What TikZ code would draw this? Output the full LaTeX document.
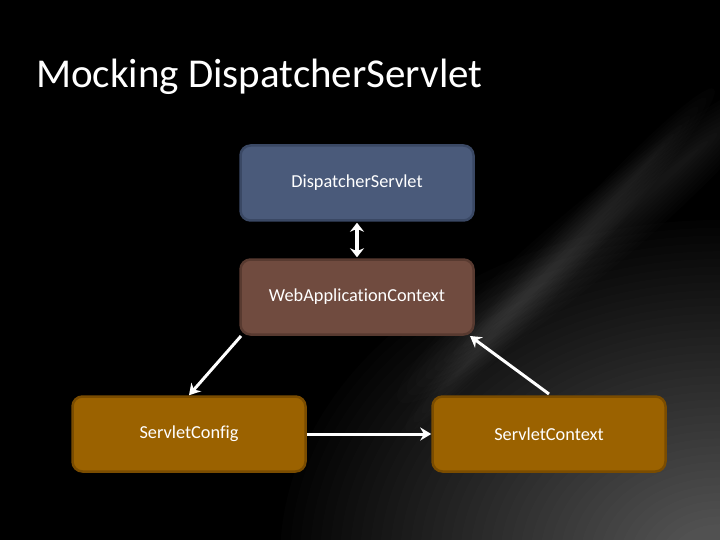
\documentclass[tikz,border=0pt]{standalone}
\usepackage{fontspec}
\setmainfont{Carlito}[Ligatures={NoCommon}]
\usetikzlibrary{arrows.meta}
\definecolor{dsblue}{RGB}{74,90,122}
\definecolor{dsblueb}{RGB}{58,72,100}
\definecolor{wacbrown}{RGB}{112,75,63}
\definecolor{wacbrownb}{RGB}{88,58,48}
\definecolor{scorange}{RGB}{155,98,0}
\definecolor{scorangeb}{RGB}{122,76,0}
\tikzset{
  x=1pt, y=-1pt,
  box/.style={draw, line width=2.5pt, rounded corners=10pt, minimum width=233pt, minimum height=75pt, text=white, font=\fontsize{18.3}{20}\selectfont, inner sep=0pt},
  conn/.style={white, line width=3pt, -{Stealth[length=11pt,width=13pt]}},
  dconn/.style={white, line width=4pt, {Stealth[length=9pt,width=14pt]}-{Stealth[length=9pt,width=14pt]}}
}
\begin{document}
\begin{tikzpicture}
\useasboundingbox (0,0) rectangle (720,540);
\fill[black] (0,0) rectangle (720,540);
% background glow
\begin{scope}
\clip (0,0) rectangle (720,540);
\foreach \k in {0,...,39} {
  \fill[white, opacity=0.0105] (720,560) ellipse ({440-10*\k} and {340-7.8*\k});
}
\foreach \k in {0,...,9} {
  \fill[white, opacity=0.012, rotate around={40:(590,240)}] (590,240) ellipse ({250-12*\k} and {36-3.4*\k});
}
\foreach \k in {0,...,7} {
  \fill[white, opacity=0.012, rotate around={48:(560,260)}] (560,260) ellipse ({230-12*\k} and {22-2.6*\k});
}
\end{scope}
\node[anchor=base west, text=white, font=\fontsize{41}{44}\selectfont, inner sep=0pt] (title) at (36,88) {Mocking DispatcherServlet};
\node[box, fill=dsblue, draw=dsblueb] (ds) at (357,183) {DispatcherServlet};
\node[box, fill=wacbrown, draw=wacbrownb] (wac) at (357,297) {WebApplicationContext};
\node[box, fill=scorange, draw=scorangeb] (scfg) at (189,434) {ServletConfig};
\node[box, fill=scorange, draw=scorangeb] (sctx) at (549,434) {ServletContext};
\draw[dconn] ([yshift=-1pt]ds.south) -- ([yshift=1pt]wac.north);
\coordinate (a1) at (241,336);
\draw[conn] (a1) -- (scfg.north);
\coordinate (a2) at (549,394);
\draw[conn] (a2) -- (470,336);
\draw[conn] (scfg.east) -- (sctx.west);
\end{tikzpicture}
\end{document}
